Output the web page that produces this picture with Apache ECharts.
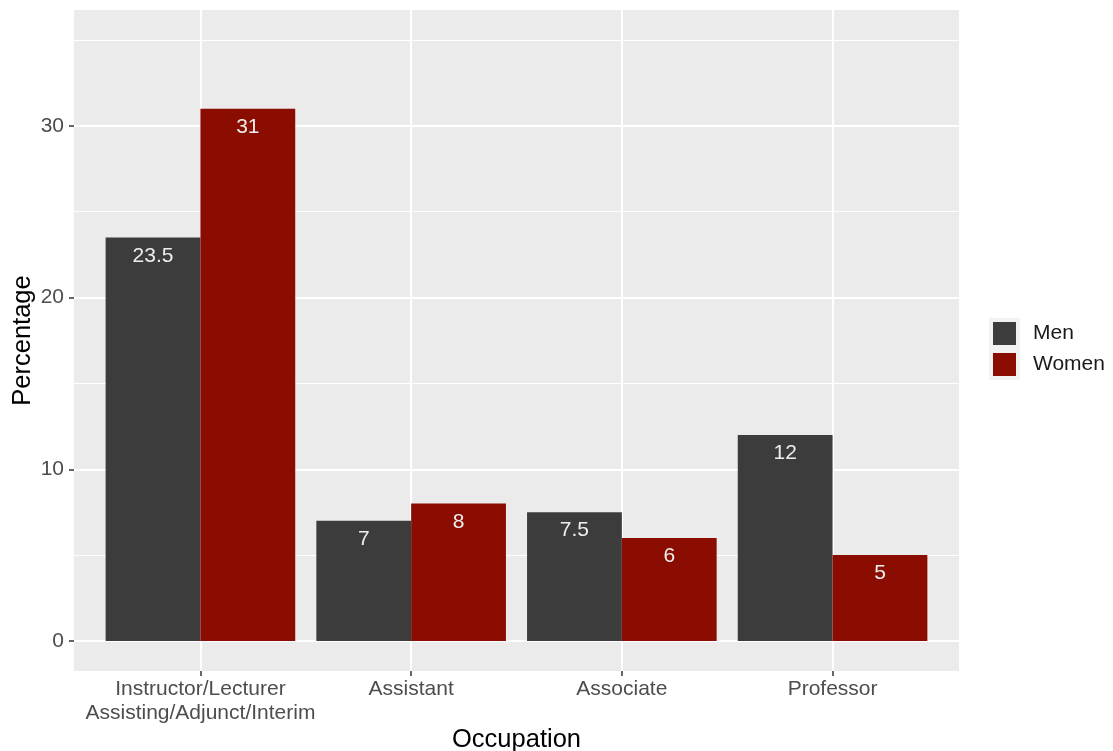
<!DOCTYPE html>
<html>
<head>
<meta charset="utf-8">
<script src="https://cdn.jsdelivr.net/npm/echarts@6/dist/echarts.min.js"></script>
<style>html,body{margin:0;padding:0;background:#fff}#c{width:1113px;height:751px}</style>
</head>
<body>
<div id="c"></div>
<script>
const categories = ["Instructor/Lecturer\nAssisting/Adjunct/Interim", "Assistant", "Associate", "Professor"];
const men = [23.5, 7, 7.5, 12];
const women = [31, 8, 6, 5];
const yMajorTicks = [0, 10, 20, 30];
const yMinorTicks = [5, 15, 25, 35];
const xPositions = [1, 2, 3, 4];

const FONT = "'Liberation Sans', Arial, sans-serif";
const chart = echarts.init(document.getElementById('c'));
const lab = {
  show: true, position: 'insideTop', distance: 8,
  color: '#EEEEEE', fontSize: 21, fontFamily: FONT,
  formatter: p => String(p.value[1])
};
chart.setOption({
  animation: false,
  textStyle: { fontFamily: FONT },
  grid: { left: 74, top: 10, right: 154, bottom: 80, show: true, backgroundColor: '#EBEBEB', borderWidth: 0,
    containLabel: false, outerBoundsMode: 'none' },
  legend: {
    orient: 'vertical', left: 989, top: 318, padding: 0,
    itemWidth: 27, itemHeight: 27, itemGap: 0, icon: 'rect',
    itemStyle: { borderColor: '#F2F2F2', borderWidth: 4 },
    textStyle: { fontSize: 21, color: '#1A1A1A', fontFamily: FONT, padding: [0, 0, 0, 10] },
    data: ['Men', 'Women']
  },
  xAxis: {
    type: 'value', min: 0.4, max: 4.6,
    name: 'Occupation', nameLocation: 'middle', nameGap: 56, nameMoveOverlap: false,
    nameTextStyle: { fontSize: 25.5, color: '#000', fontFamily: FONT },
    axisLine: { show: false, onZero: false },
    axisTick: { show: true, length: 5, customValues: xPositions, lineStyle: { color: '#333', width: 1.5 } },
    axisLabel: { customValues: xPositions, margin: 6, fontSize: 21, lineHeight: 24, color: '#4D4D4D', fontFamily: FONT,
      formatter: v => categories[Math.round(v) - 1] || '' },
    splitLine: { show: true, lineStyle: { color: '#FFFFFF', width: 2 } }
  },
  yAxis: [{
    type: 'value', min: -1.75, max: 36.75,
    name: 'Percentage', nameLocation: 'middle', nameGap: 38, nameMoveOverlap: false,
    nameTextStyle: { fontSize: 25.5, color: '#000', fontFamily: FONT },
    axisLine: { show: false, onZero: false },
    axisTick: { show: true, length: 5, customValues: yMajorTicks, lineStyle: { color: '#333', width: 1.5 } },
    axisLabel: { customValues: yMajorTicks, margin: 10, fontSize: 21, color: '#4D4D4D', fontFamily: FONT },
    splitLine: { show: true, lineStyle: { color: '#FFFFFF', width: 2 } }
  }, {
    type: 'value', min: -1.75, max: 36.75,
    axisLine: { show: false, onZero: false },
    axisTick: { show: false, customValues: yMinorTicks },
    axisLabel: { show: false, customValues: yMinorTicks },
    splitLine: { show: true, lineStyle: { color: '#FFFFFF', width: 1 } }
  }],
  series: [{
    name: 'Men', type: 'bar', barWidth: 94.8, barGap: '0%',
    itemStyle: { color: '#3C3C3C' }, label: lab,
    data: xPositions.map((x, i) => [x, men[i]])
  }, {
    name: 'Women', type: 'bar', barWidth: 94.8, barGap: '0%',
    itemStyle: { color: '#8B0C00' }, label: lab,
    data: xPositions.map((x, i) => [x, women[i]])
  }]
});
</script>
</body>
</html>
